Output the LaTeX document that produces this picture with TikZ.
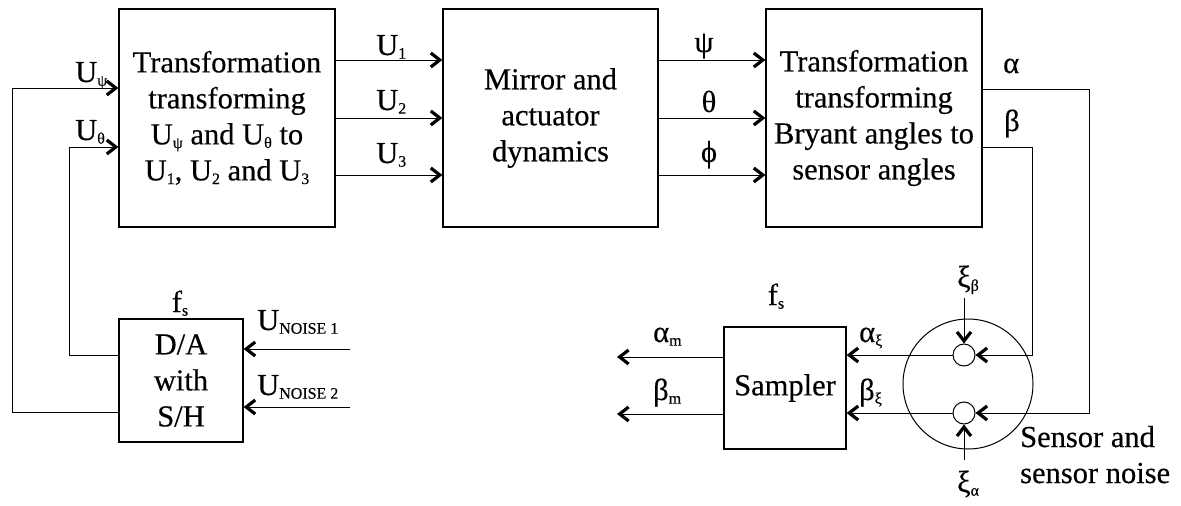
\documentclass[tikz,border=0pt]{standalone}
\usepackage{fontspec}
\setmainfont{Liberation Serif}[FakeBold=0.35]
\usetikzlibrary{arrows.meta}
% small lowered subscript
\newcommand\lo[1]{\raisebox{-0.12em}{\fontsize{16}{16}\selectfont #1}}
\begin{document}
\begin{tikzpicture}[x=1pt,y=-1pt,
  every node/.style={font=\fontsize{30.5}{36}\selectfont, inner sep=0pt},
  blk/.style={draw, line width=1.2pt, align=center},
  arr/.style={line width=1pt, -{Straight Barb[length=9pt,width=14pt,line width'=3.2pt]}},
  lbl/.style={anchor=base west},
  clbl/.style={anchor=base},
  ring/.style={circle, draw, line width=1pt},
  ]
\useasboundingbox (0,0) rectangle (1181,506);

% main blocks
\node[blk, minimum width=216pt, minimum height=218pt] (tin) at (227,118)
  {Transformation\\transforming\\U\lo{ψ} and U\lo{θ} to\\U\lo{1}, U\lo{2} and U\lo{3}};
\node[blk, minimum width=215pt, minimum height=218pt] (mir) at (550.5,118)
  {Mirror and\\actuator\\dynamics};
\node[blk, minimum width=216pt, minimum height=218pt] (tout) at (874,118)
  {Transformation\\transforming\\Bryant angles to\\sensor angles};
\node[blk, minimum width=124pt, minimum height=123pt] (da) at (181,380.5)
  {D/A\\with\\S/H};
\node[blk, minimum width=122pt, minimum height=122pt] (smp) at (785,388)
  {Sampler};

% sensor with its two summing points
\node[ring, minimum size=130pt] (sens) at (968,384) {};
\node[ring, minimum size=22pt] (sa) at (964,355) {};
\node[ring, minimum size=22pt] (sb) at (964,413) {};

% free ends
\coordinate (fbA) at (12,88);
\coordinate (fbB) at (69,147);
\coordinate (nz1) at (350,349);
\coordinate (nz2) at (350,407);
\coordinate (am) at (617,357);
\coordinate (bm) at (617,414);
\coordinate (ra) at (1089,89);
\coordinate (rb) at (1032,147);
\coordinate (xbs) at (964,298);
\coordinate (xas) at (964,460);

% forward path
\draw[arr] (tin.east |- 0,60) -- (mir.west |- 0,60);
\draw[arr] (tin.east |- 0,118) -- (mir.west |- 0,118);
\draw[arr] (tin.east |- 0,175) -- (mir.west |- 0,175);
\draw[arr] (mir.east |- 0,60) -- (tout.west |- 0,60);
\draw[arr] (mir.east |- 0,118) -- (tout.west |- 0,118);
\draw[arr] (mir.east |- 0,175) -- (tout.west |- 0,175);

% sensor angles to the sensor
\draw[arr] (tout.east |- ra) -- (ra) |- (sb.east);
\draw[arr] (tout.east |- rb) -- (rb) |- (sa.east);
\draw[arr] (xbs) -- (sa.north);
\draw[arr] (xas) -- (sb.south);
\draw[arr] (sa.west) -- (smp.east |- sa.west);
\draw[arr] (sb.west) -- (smp.east |- sb.west);
\draw[arr] (smp.west |- am) -- (am);
\draw[arr] (smp.west |- bm) -- (bm);

% D/A feedback and noise inputs
\draw[arr] (da.west |- 0,412) -| (fbA) -- (tin.west |- fbA);
\draw[arr] (da.west |- 0,355) -| (fbB) -- (tin.west |- fbB);
\draw[arr] (nz1) -- (da.east |- nz1);
\draw[arr] (nz2) -- (da.east |- nz2);

% signal labels
\node[lbl] at (376,55) {U\lo{1}};
\node[lbl] at (376,110) {U\lo{2}};
\node[lbl] at (376,163) {U\lo{3}};
\node[clbl] at (704,52) {ψ};
\node[clbl] at (709,112) {θ};
\node[clbl] at (709,162) {ϕ};
\node[lbl] at (1003,73) {α};
\node[lbl] at (1004,131) {β};
\node[lbl] at (75,82) {U\lo{ψ}};
\node[lbl] at (75,140) {U\lo{θ}};
\node[clbl] at (180,312) {f\lo{s}};
\node[clbl] at (776,305) {f\lo{s}};
\node[lbl] at (257,330) {U\lo{NOISE 1}};
\node[lbl] at (257,395) {U\lo{NOISE 2}};
\node[lbl] at (653,342) {α\lo{m}};
\node[lbl] at (653,400) {β\lo{m}};
\node[lbl] at (859,342) {α\lo{ξ}};
\node[lbl] at (859,400) {β\lo{ξ}};
\node[clbl] at (968,287) {ξ\lo{β}};
\node[clbl] at (968,492) {ξ\lo{α}};
\node[anchor=base west, align=left] at (1020,483) {Sensor and\\sensor noise};
\end{tikzpicture}
\end{document}
